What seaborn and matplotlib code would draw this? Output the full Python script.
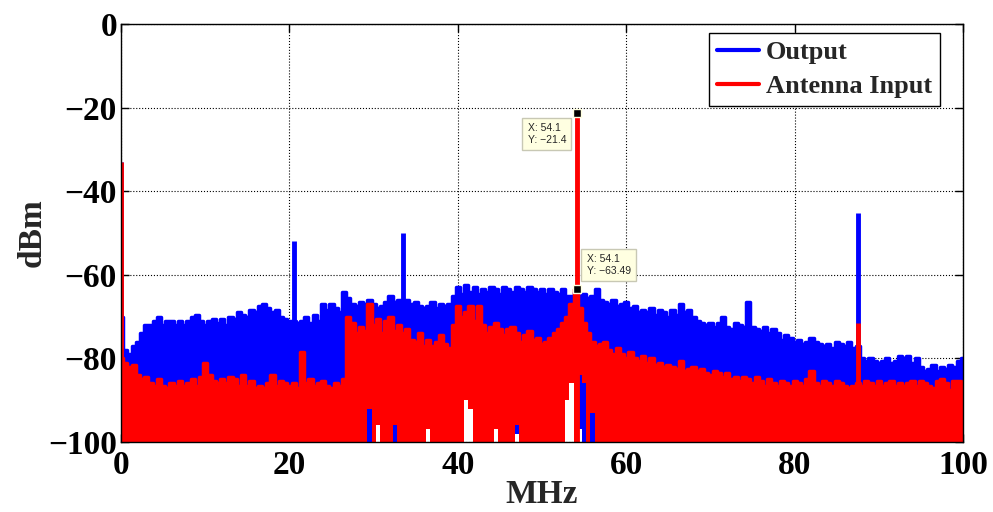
import numpy as np
import pandas as pd
import matplotlib
matplotlib.use('Agg')
import matplotlib.pyplot as plt
import seaborn as sns

# spectrum, one value every 0.5 MHz (upper edge of the noise band)
freq = np.arange(0, 100.5, 0.5)

blue_top = [
    -70, -78, -79, -77, -76, -74, -72, -72, -71, -70,
    -72, -71, -71, -72, -71, -72, -71, -70, -69.5, -71,
    -72, -71, -70.5, -71.5, -70.5, -72, -70, -70.5, -69, -69.5,
    -70, -68.5, -69, -67.5, -67, -68, -69, -68.5, -70, -70.5,
    -71, -71, -71.5, -71, -70, -71.5, -69.5, -71, -67, -68.5,
    -67, -68, -69, -64, -65.5, -67, -67.5, -66.5, -67, -66,
    -67, -68, -67.5, -66.5, -65, -66.5, -66, -66, -66, -67,
    -66.5, -67.5, -68, -67.5, -66.5, -68, -67, -67.5, -67, -65,
    -63, -64.5, -62.5, -64, -63, -64.5, -63.5, -64, -63, -63.5,
    -64.5, -63, -63.5, -64, -63, -63.5, -64, -63, -63.5, -64,
    -63.5, -64.5, -63.5, -64, -64.5, -63.5, -65, -65, -64, -65,
    -64.5, -65.5, -65, -63.5, -66, -66.5, -67, -66, -67.5, -67,
    -66.5, -68, -67.5, -69, -68.5, -69, -68, -69.5, -68.5, -69,
    -70, -68.5, -69.5, -67, -69, -68.5, -70, -71, -71.5, -72,
    -71.5, -72.5, -71.5, -70, -72.5, -73, -71.5, -72, -72.5, -66.5,
    -72.5, -73, -73.5, -72.5, -74, -73, -74, -75.5, -74.5, -75,
    -76, -75.5, -76.5, -76, -75, -76, -76.5, -77, -76.5, -77.5,
    -76, -76.5, -77, -76, -77.5, -77, -80, -80.5, -80, -80.5,
    -81, -80.5, -80, -81, -80.5, -79.5, -80, -79.5, -81, -80,
    -82, -83, -82.5, -81.5, -83, -82, -82.5, -81.5, -82, -80.5,
    -80,
]

red_top = [
    -80, -81, -82, -81.5, -84, -85, -84.5, -86, -86.5, -85,
    -86.5, -87, -86, -86.5, -85.5, -86.5, -86, -85, -86.5, -84.5,
    -81, -84, -85.5, -86, -85, -86, -84.5, -85, -86.5, -84,
    -86.5, -85.5, -87, -86.5, -87, -86, -84, -86.5, -85.5, -86,
    -86.5, -86, -87, -78.5, -86, -85, -86.5, -86, -85.5, -86.5,
    -87, -86, -86.5, -85, -70, -71.5, -74, -72.5, -73.5, -67,
    -72, -70.5, -74, -71, -70, -73.5, -72, -74, -73, -75.5,
    -76, -74, -77, -75.5, -77, -76, -74.5, -76.5, -77.5, -72,
    -67.5, -70, -69, -67.5, -71, -67.5, -72, -74, -72.5, -71.5,
    -73, -74.5, -73, -72.5, -74, -76, -74.5, -73.5, -75.5, -75,
    -76.5, -76, -75, -74, -73, -71.5, -70, -67, -63.5, -68,
    -71.5, -74, -76, -77, -76.5, -76, -78, -79, -77.5, -79,
    -80, -78.5, -80, -80.5, -79.5, -81, -80, -81.5, -81, -82,
    -81.5, -82, -82.5, -80.5, -83, -82.5, -82, -83, -82.5, -83.5,
    -84, -83, -83.5, -84.5, -83.5, -85, -84.5, -85.5, -84.5, -85,
    -86, -84.5, -85.5, -86.5, -85, -86, -86.5, -85.5, -86, -86.5,
    -85.5, -86, -86.5, -85, -83, -86, -86.5, -85.5, -86, -86.5,
    -85.5, -86, -86.5, -87, -86.5, -86, -86.5, -85.5, -86, -86.5,
    -85.5, -86.5, -86, -85.5, -86.5, -86, -86.5, -86, -85.5, -86.5,
    -85.5, -86, -86.5, -87, -85.5, -85, -86, -87.5, -85.5, -85.5,
    -86,
]

# places where the band does not reach the -100 floor
blue_gap_freq = [30.5, 36.5, 41.0, 41.5, 44.5, 47.0, 53.0, 53.5, 54.5]
blue_gap_db = [-96, -97, -90, -92, -97, -98, -90, -86, -97]
red_gap_freq = [29.5, 30.5, 32.5, 36.5, 41.0, 41.5, 44.5, 47.0, 53.0, 53.5, 54.5, 55.0, 56.0]
red_gap_db = [-92, -96, -96, -97, -90, -92, -97, -96, -90, -86, -84, -86, -93]

# narrow spurs
blue_spur_freq = [0.0, 20.5, 33.5, 87.5]
blue_spur_db = [-33, -52, -50, -45.2]
red_spur_freq = [0.0, 54.1, 87.5]
red_spur_db = [-33, -21.4, -71.5]

# data tips
tip_x = [54.1, 54.1]
tip_y = [-21.4, -63.49]
tip_text = ['X: 54.1\nY: \u221221.4', 'X: 54.1\nY: \u221263.49']

df = pd.DataFrame({'MHz': freq, 'Output': blue_top, 'Antenna Input': red_top})

sns.set_style('ticks')
plt.rcParams['font.family'] = ['Liberation Serif', 'DejaVu Serif']
plt.rcParams['font.weight'] = 'bold'

fig = plt.figure(figsize=(9.93, 5.12), dpi=100)
ax = fig.add_axes([0.1219, 0.1367, 0.8479, 0.8164])

floor = -100


def band_floor(gap_freq, gap_db):
    lo = np.full(len(freq), float(floor))
    for f, v in zip(gap_freq, gap_db):
        lo[int(round(f * 2))] = v
    return lo


for col, colour, gf, gd, sf, sd in [
        ('Output', 'blue', blue_gap_freq, blue_gap_db, blue_spur_freq, blue_spur_db),
        ('Antenna Input', 'red', red_gap_freq, red_gap_db, red_spur_freq, red_spur_db)]:
    lo = band_floor(gf, gd)
    ax.fill_between(df['MHz'], lo, df[col], step='mid', color=colour, linewidth=0, zorder=2)
    sns.lineplot(data=df, x='MHz', y=col, color=colour, linewidth=2.5, label=col, ax=ax,
                 drawstyle='steps-mid', zorder=2)
    ax.vlines(sf, floor, sd, color=colour, linewidth=3.5, zorder=2)

ax.plot(tip_x, tip_y, 's', color='black', markersize=6, markeredgecolor='#ffffe1',
        markeredgewidth=1, zorder=5)
tip_style = dict(textcoords='offset pixels', ha='left', va='top', fontsize=7.5,
                 family='Liberation Sans', fontweight='normal', linespacing=1.15,
                 bbox=dict(boxstyle='square,pad=0.5', fc='#ffffe1', ec='#c8c8b4', lw=1),
                 zorder=6)
ax.annotate(tip_text[0], (tip_x[0], tip_y[0]), xytext=(-49, -10), **tip_style)
ax.annotate(tip_text[1], (tip_x[1], tip_y[1]), xytext=(10, 35), **tip_style)

ax.set_xlim(0, 100)
ax.set_ylim(-100, 0)
ax.set_xticks(range(0, 101, 20))
ax.set_yticks(range(-100, 1, 20))
ax.set_yticklabels([str(v).replace('-', '\u2212') for v in range(-100, 1, 20)])
ax.tick_params(direction='in', length=6, width=1, top=True, right=True,
               labelsize=24, colors='black')
ax.tick_params(axis='x', pad=6)
ax.tick_params(axis='y', pad=3)
for lab in ax.get_xticklabels() + ax.get_yticklabels():
    lab.set_fontweight('bold')
ax.grid(True, linestyle=':', color='black', linewidth=0.8)
ax.set_axisbelow(True)
for s in ax.spines.values():
    s.set_color('black')
    s.set_linewidth(1)

ax.set_xlabel('MHz', fontsize=24, fontweight='bold', labelpad=-2)
ax.set_ylabel('dBm', fontsize=24, fontweight='bold', labelpad=0)

leg = ax.legend(loc='upper right', bbox_to_anchor=(0.9727, 0.9785), borderaxespad=0,
                fancybox=False, framealpha=1, edgecolor='black', handlelength=1.6,
                handletextpad=0.25, borderpad=0.3, labelspacing=0.4,
                prop={'size': 19, 'weight': 'bold', 'family': 'Liberation Serif'})
leg.get_frame().set_linewidth(1)
for h in leg.get_lines():
    h.set_linewidth(3)
    h.set_drawstyle('default')

fig.savefig('out.png', dpi=100)
